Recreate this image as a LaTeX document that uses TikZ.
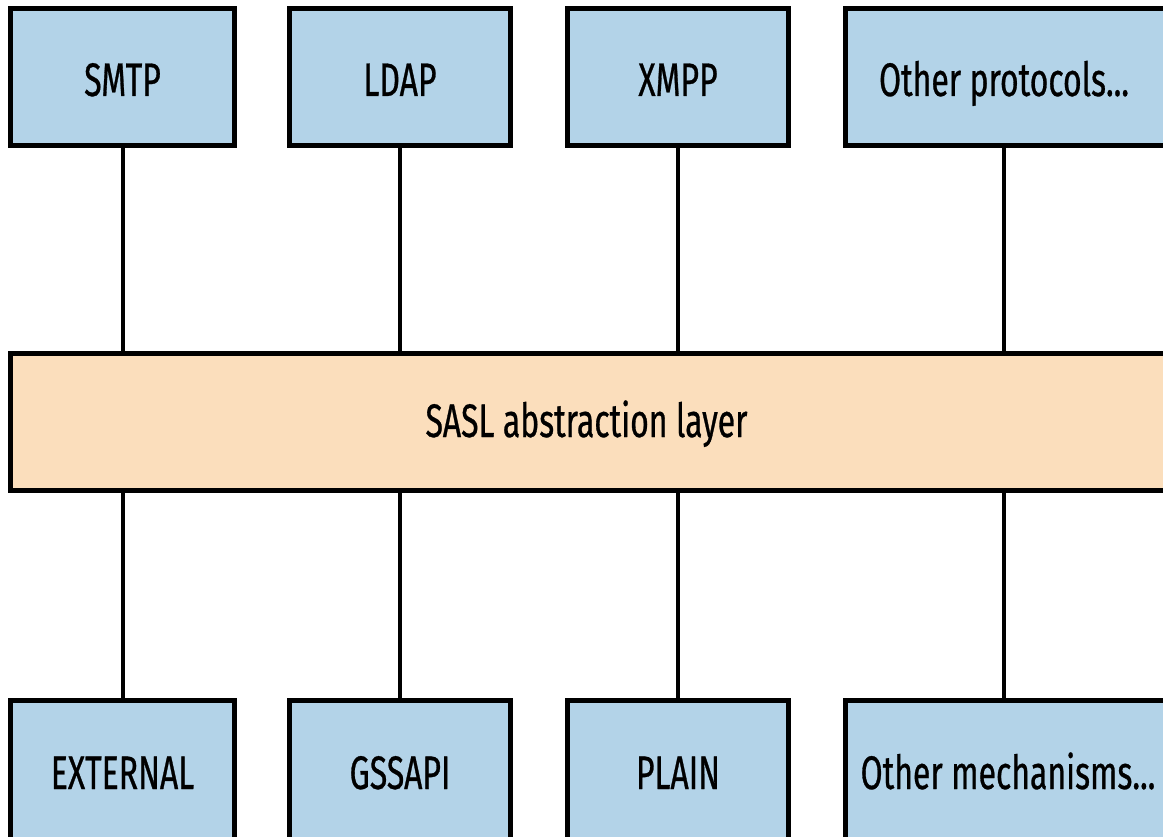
\documentclass[tikz,border=0pt]{standalone}
\usepackage{fontspec}
\setmainfont{Fira Sans}[FakeStretch=0.68, FakeBold=0.6]
\definecolor{boxblue}{RGB}{179,211,232}
\definecolor{boxorange}{RGB}{251,222,188}
\tikzset{
  box/.style={draw=black, line width=5pt, fill=boxblue, inner sep=0pt, outer sep=0pt},
  layer/.style={draw=black, line width=5pt, fill=boxorange, inner sep=0pt, outer sep=0pt},
  txt/.style={inner sep=0pt, anchor=base, font=\fontsize{47}{50}\selectfont, text=black},
  link/.style={draw=black, line width=4pt}
}
\begin{document}
\begin{tikzpicture}[x=1pt,y=1pt]
\useasboundingbox (0,0) rectangle (1163,-837);
\clip (0,0) rectangle (1163,-837);
% column positions
\coordinate (c4) at (1004,0);
% top row
\node[box, minimum width=224, minimum height=137] (p1) at (122.5,-77) {};
\node[box, minimum width=221, minimum height=137] (p2) at (400,-77) {};
\node[box, minimum width=221, minimum height=137] (p3) at (678,-77) {};
\node[box, minimum width=330, minimum height=137, anchor=west] (p4) at (845.5,-77) {};
\node[txt] (t1) at (122.5,-96) {SMTP};
\node[txt] (t2) at (400,-96) {LDAP};
\node[txt] (t3) at (678,-96) {XMPP};
\node[txt] (t4) at (1004,-96) {Other protocols...};
% layer
\node[layer, minimum width=1170, minimum height=137, anchor=west] (sasl) at (10.5,-422) {};
\node[txt] (ts) at (586.5,-437) {SASL abstraction layer};
% bottom row
\node[box, minimum width=224, minimum height=150, anchor=north] (m1) at (122.5,-700.5) {};
\node[box, minimum width=221, minimum height=150, anchor=north] (m2) at (400,-700.5) {};
\node[box, minimum width=221, minimum height=150, anchor=north] (m3) at (678,-700.5) {};
\node[box, minimum width=330, minimum height=150, anchor=north west] (m4) at (845.5,-700.5) {};
\node[txt] (u1) at (122.5,-789) {EXTERNAL};
\node[txt] (u2) at (400,-789) {GSSAPI};
\node[txt] (u3) at (678,-789) {PLAIN};
\node[txt] (u4) at (1008,-789) {Other mechanisms...};
% connectors
\draw[link] (p1.south) -- (p1.south |- sasl.north);
\draw[link] (p2.south) -- (p2.south |- sasl.north);
\draw[link] (p3.south) -- (p3.south |- sasl.north);
\draw[link] (c4 |- p4.south) -- (c4 |- sasl.north);
\draw[link] (m1.north |- sasl.south) -- (m1.north);
\draw[link] (m2.north |- sasl.south) -- (m2.north);
\draw[link] (m3.north |- sasl.south) -- (m3.north);
\draw[link] (c4 |- sasl.south) -- (c4 |- m4.north);
\end{tikzpicture}
\end{document}
